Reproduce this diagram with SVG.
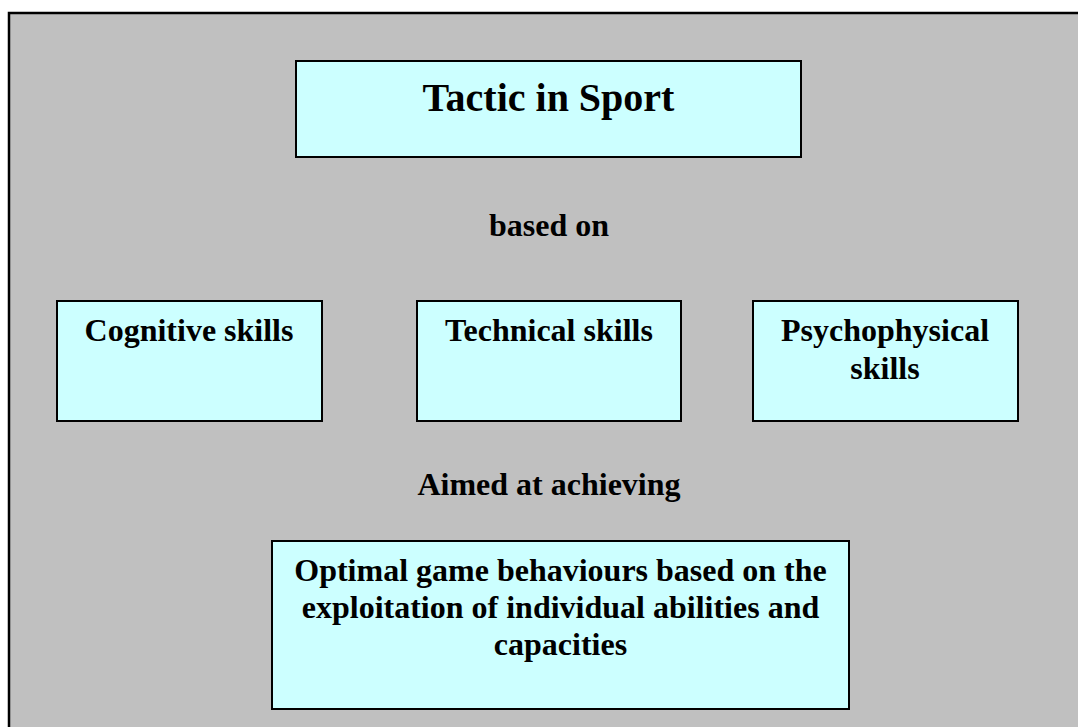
<svg xmlns="http://www.w3.org/2000/svg" width="1078" height="727" viewBox="0 0 1078 727">
<style>
.bg{fill:#c0c0c0;stroke:#000;stroke-width:2.5}
.box{fill:#ccffff;stroke:#000;stroke-width:2}
text{font-family:"Liberation Serif","Times New Roman",serif;font-weight:bold;fill:#000;text-anchor:middle}
.t{font-size:40px}
.m{font-size:32px}
</style>
<rect width="1078" height="727" fill="#fff"/>
<rect class="bg" x="9" y="13" width="1090" height="740"/>
<g id="connectors"></g>
<g id="tactic">
<rect class="box" x="296" y="61" width="505" height="96"/>
<text class="t" x="548.5" y="111">Tactic in Sport</text>
</g>
<g id="label-based-on"><text class="m" x="549" y="236">based on</text></g>
<g id="cognitive">
<rect class="box" x="57" y="301" width="265" height="120"/>
<text class="m" x="189" y="341">Cognitive skills</text>
</g>
<g id="technical">
<rect class="box" x="417" y="301" width="264" height="120"/>
<text class="m" x="549" y="341">Technical skills</text>
</g>
<g id="psychophysical">
<rect class="box" x="753" y="301" width="265" height="120"/>
<text class="m" x="885" y="341">Psychophysical</text>
<text class="m" x="885" y="379">skills</text>
</g>
<g id="label-aimed"><text class="m" x="549" y="495">Aimed at achieving</text></g>
<g id="optimal">
<rect class="box" x="272" y="541" width="577" height="168"/>
<text class="m" x="560.5" y="581">Optimal game behaviours based on the</text>
<text class="m" x="560.5" y="618">exploitation of individual abilities and</text>
<text class="m" x="560.5" y="655">capacities</text>
</g>
</svg>
